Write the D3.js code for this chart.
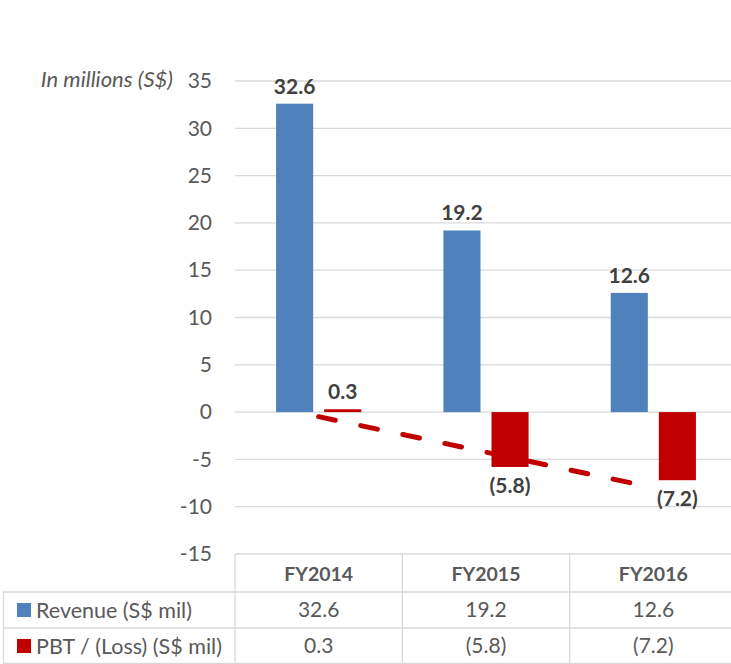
<!DOCTYPE html>
<html>
<head>
<meta charset="utf-8">
<script src="https://cdn.jsdelivr.net/npm/d3@7"></script>
<style>
  body { margin: 0; background: #fff; }
  text { font-family: Lato, "Open Sans", sans-serif; }
</style>
</head>
<body>
<div class="canvas"></div>
<script>
const categories = ['FY2014', 'FY2015', 'FY2016'];
const seriesNames = ['Revenue (S$ mil)', 'PBT / (Loss) (S$ mil)'];
const revenue = [32.6, 19.2, 12.6];
const pbt = [0.3, -5.8, -7.2];
const yTicks = [35, 30, 25, 20, 15, 10, 5, 0, -5, -10, -15];

const fmt = v => v < 0 ? `(${Math.abs(v).toFixed(1)})` : v.toFixed(1);
const colors = ['#4F81BD', '#C00000'];

const width = 731, height = 664;
const svg = d3.select('.canvas').append('svg')
  .attr('width', width)
  .attr('height', height);

// scales
const y = d3.scaleLinear().domain([-15, 35]).range([554, 81]);
const x = d3.scaleBand().domain(categories).range([235, 737]);
const xs = d3.scaleBand().domain(seriesNames)
  .range([0, x.bandwidth()])
  .paddingInner(0.229)
  .paddingOuter(0.854);

// gridlines
svg.append('g').selectAll('line').data(yTicks.filter(d => d > -15)).enter().append('line')
  .attr('x1', 235).attr('x2', width)
  .attr('y1', d => y(d)).attr('y2', d => y(d))
  .attr('stroke', '#D9D9D9').attr('stroke-width', 1.3);

// y axis (plain hyphen for negatives, like the original)
const yAxis = d3.axisLeft(y).tickValues(yTicks).tickSize(0).tickPadding(0)
  .tickFormat(d => String(d));
const yAxisGroup = svg.append('g').attr('transform', 'translate(212, 0)').call(yAxis);
yAxisGroup.select('.domain').remove();
yAxisGroup.selectAll('text')
  .style('font-family', 'Lato, sans-serif')
  .attr('font-size', 21).attr('fill', '#595959');

svg.append('text')
  .attr('x', 173).attr('y', 79).attr('dy', '0.35em')
  .attr('text-anchor', 'end')
  .attr('font-size', 22).attr('font-style', 'italic').attr('fill', '#595959')
  .text('In millions (S$)');

const data = categories.map((c, i) => ({ cat: c, values: [revenue[i], pbt[i]] }));

// bars
const groups = svg.append('g').selectAll('g').data(data).enter().append('g')
  .attr('transform', d => `translate(${x(d.cat)}, 0)`);

groups.selectAll('rect').data(d => d.values.map((v, j) => ({ v, s: seriesNames[j], j })))
  .enter().append('rect')
  .attr('x', d => xs(d.s))
  .attr('width', xs.bandwidth())
  .attr('y', d => y(Math.max(0, d.v)))
  .attr('height', d => Math.abs(y(d.v) - y(0)))
  .attr('fill', d => colors[d.j]);

// data labels
groups.selectAll('text.lbl').data(d => d.values.map((v, j) => ({ v, s: seriesNames[j], j })))
  .enter().append('text')
  .attr('class', 'lbl')
  .attr('x', d => xs(d.s) + xs.bandwidth() / 2)
  .attr('y', d => d.v >= 0 ? y(d.v) - 10 : y(d.v) + 26)
  .attr('text-anchor', 'middle')
  .attr('font-size', 21).attr('font-weight', 'bold').attr('fill', '#404040')
  .text(d => fmt(d.v));

// linear trendline for PBT
const xi = pbt.map((d, i) => i + 1);
const mx = d3.mean(xi), my = d3.mean(pbt);
const slope = d3.sum(xi, (d, i) => (d - mx) * (pbt[i] - my)) / d3.sum(xi, d => (d - mx) ** 2);
const intercept = my - slope * mx;
const trend = categories.map((c, i) => ({ c, v: intercept + slope * (i + 1) }));

svg.append('path')
  .datum(trend)
  .attr('d', d3.line().x(d => x(d.c) + x.bandwidth() / 2).y(d => y(d.v)))
  .attr('fill', 'none')
  .attr('stroke', '#C00000')
  .attr('stroke-width', 5)
  .attr('stroke-linecap', 'round')
  .attr('stroke-dasharray', '17 26');

// data table
const table = svg.append('g');
const rowY = [554, 592, 628, 664];
const lineColor = '#D9D9D9';
table.append('line').attr('x1', 235).attr('x2', width).attr('y1', rowY[0]).attr('y2', rowY[0])
  .attr('stroke', lineColor).attr('stroke-width', 1.3);
[rowY[1], rowY[2], rowY[3] - 0.5].forEach(yy => {
  table.append('line').attr('x1', 3).attr('x2', width).attr('y1', yy).attr('y2', yy)
    .attr('stroke', lineColor).attr('stroke-width', 1.3);
});
table.append('line').attr('x1', 3.5).attr('x2', 3.5).attr('y1', rowY[1]).attr('y2', rowY[3])
  .attr('stroke', lineColor).attr('stroke-width', 1.3);
categories.forEach(c => {
  table.append('line').attr('x1', x(c)).attr('x2', x(c)).attr('y1', rowY[0]).attr('y2', rowY[3])
    .attr('stroke', lineColor).attr('stroke-width', 1.3);
});

// header
table.selectAll('text.hdr').data(categories).enter().append('text')
  .attr('class', 'hdr')
  .attr('x', d => x(d) + x.bandwidth() / 2)
  .attr('y', (rowY[0] + rowY[1]) / 2 + 1).attr('dy', '0.35em')
  .attr('text-anchor', 'middle')
  .attr('font-size', 19.5).attr('font-weight', 'bold').attr('fill', '#595959')
  .text(d => d);

const rows = [revenue, pbt];
rows.forEach((vals, r) => {
  const cy = (rowY[r + 1] + rowY[r + 2]) / 2;
  table.append('rect')
    .attr('x', 17).attr('y', cy - 7).attr('width', 14).attr('height', 14)
    .attr('fill', colors[r]);
  table.append('text')
    .attr('x', 36).attr('y', cy).attr('dy', '0.35em')
    .attr('font-size', 21.5).attr('fill', '#595959')
    .text(seriesNames[r]);
  table.selectAll(`text.v${r}`).data(vals).enter().append('text')
    .attr('class', `v${r}`)
    .attr('x', (d, i) => x(categories[i]) + x.bandwidth() / 2)
    .attr('y', cy).attr('dy', '0.35em')
    .attr('text-anchor', 'middle')
    .attr('font-size', 21).attr('fill', '#595959')
    .text(d => fmt(d));
});
</script>
</body>
</html>
